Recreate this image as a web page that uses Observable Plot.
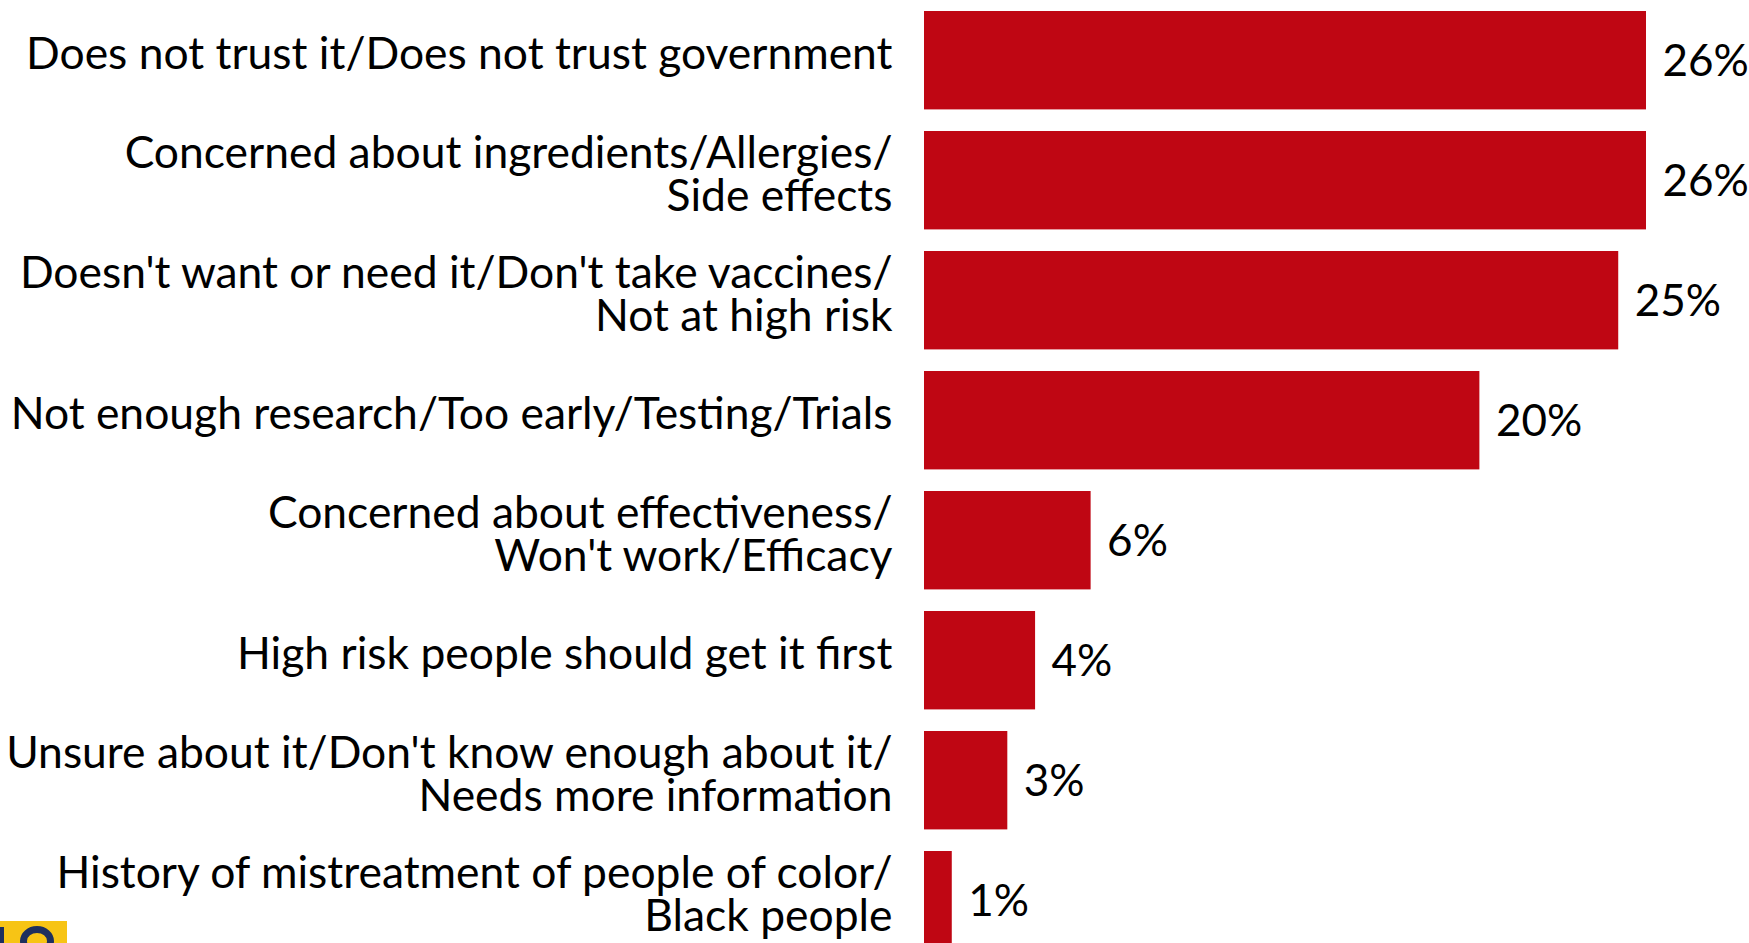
<!DOCTYPE html>
<html>
<head>
<meta charset="utf-8">
<script src="https://cdn.jsdelivr.net/npm/d3@7"></script>
<script src="https://cdn.jsdelivr.net/npm/@observablehq/plot@0.6"></script>
<style>
  html, body { margin: 0; padding: 0; background: #fff; overflow: hidden; }
  #wrap { position: relative; width: 1749px; height: 943px; overflow: hidden; }
  #logo { position: absolute; left: 0; top: 921px; width: 67px; height: 22px; background: #F7C415; overflow: hidden; }
  #logo .b1 { position: absolute; left: -4px; top: 6px; width: 8px; height: 20px; background: #1D2F5E; }
  #logo .b2 { position: absolute; left: 20px; top: 5px; width: 34px; height: 30px; border: 7px solid #1D2F5E; border-radius: 50%; box-sizing: border-box; }
</style>
</head>
<body>
<div id="wrap"><div id="chart"></div><div id="logo"><div class="b1"></div><div class="b2"></div></div></div>
<script>
const categories = [
  "Does not trust it/Does not trust government",
  "Concerned about ingredients/Allergies/\nSide effects",
  "Doesn't want or need it/Don't take vaccines/\nNot at high risk",
  "Not enough research/Too early/Testing/Trials",
  "Concerned about effectiveness/\nWon't work/Efficacy",
  "High risk people should get it first",
  "Unsure about it/Don't know enough about it/\nNeeds more information",
  "History of mistreatment of people of color/\nBlack people"
];
const values = [26, 26, 25, 20, 6, 4, 3, 1];
const valueLabels = ["26%", "26%", "25%", "20%", "6%", "4%", "3%", "1%"];

const data = categories.map((c, i) => ({cat: c, value: values[i], label: valueLabels[i]}));
const font = "Lato, 'Noto Sans', sans-serif";

const chart = Plot.plot({
  width: 1749,
  height: 943,
  marginLeft: 924,
  marginRight: 103,
  marginTop: 0,
  marginBottom: 0,
  style: {fontFamily: font, background: "#fff", overflow: "hidden"},
  x: {domain: [0, 26], axis: null},
  y: {domain: categories, range: [11, 949.4], paddingInner: 0.18, paddingOuter: 0, round: false, axis: null},
  marks: [
    Plot.barX(data, {x: "value", y: "cat", fill: "#BF0613"}),
    Plot.text(data, {x: 0, y: "cat", text: "cat", textAnchor: "end", dx: -32, dy: -5, fontSize: 44.4, lineHeight: 0.97, fill: "#000", fontFamily: font}),
    Plot.text(data, {x: "value", y: "cat", text: "label", textAnchor: "start", dx: 16, dy: 1, fontSize: 44, fill: "#000", fontFamily: font})
  ]
});
document.getElementById("chart").appendChild(chart);
</script>
</body>
</html>
